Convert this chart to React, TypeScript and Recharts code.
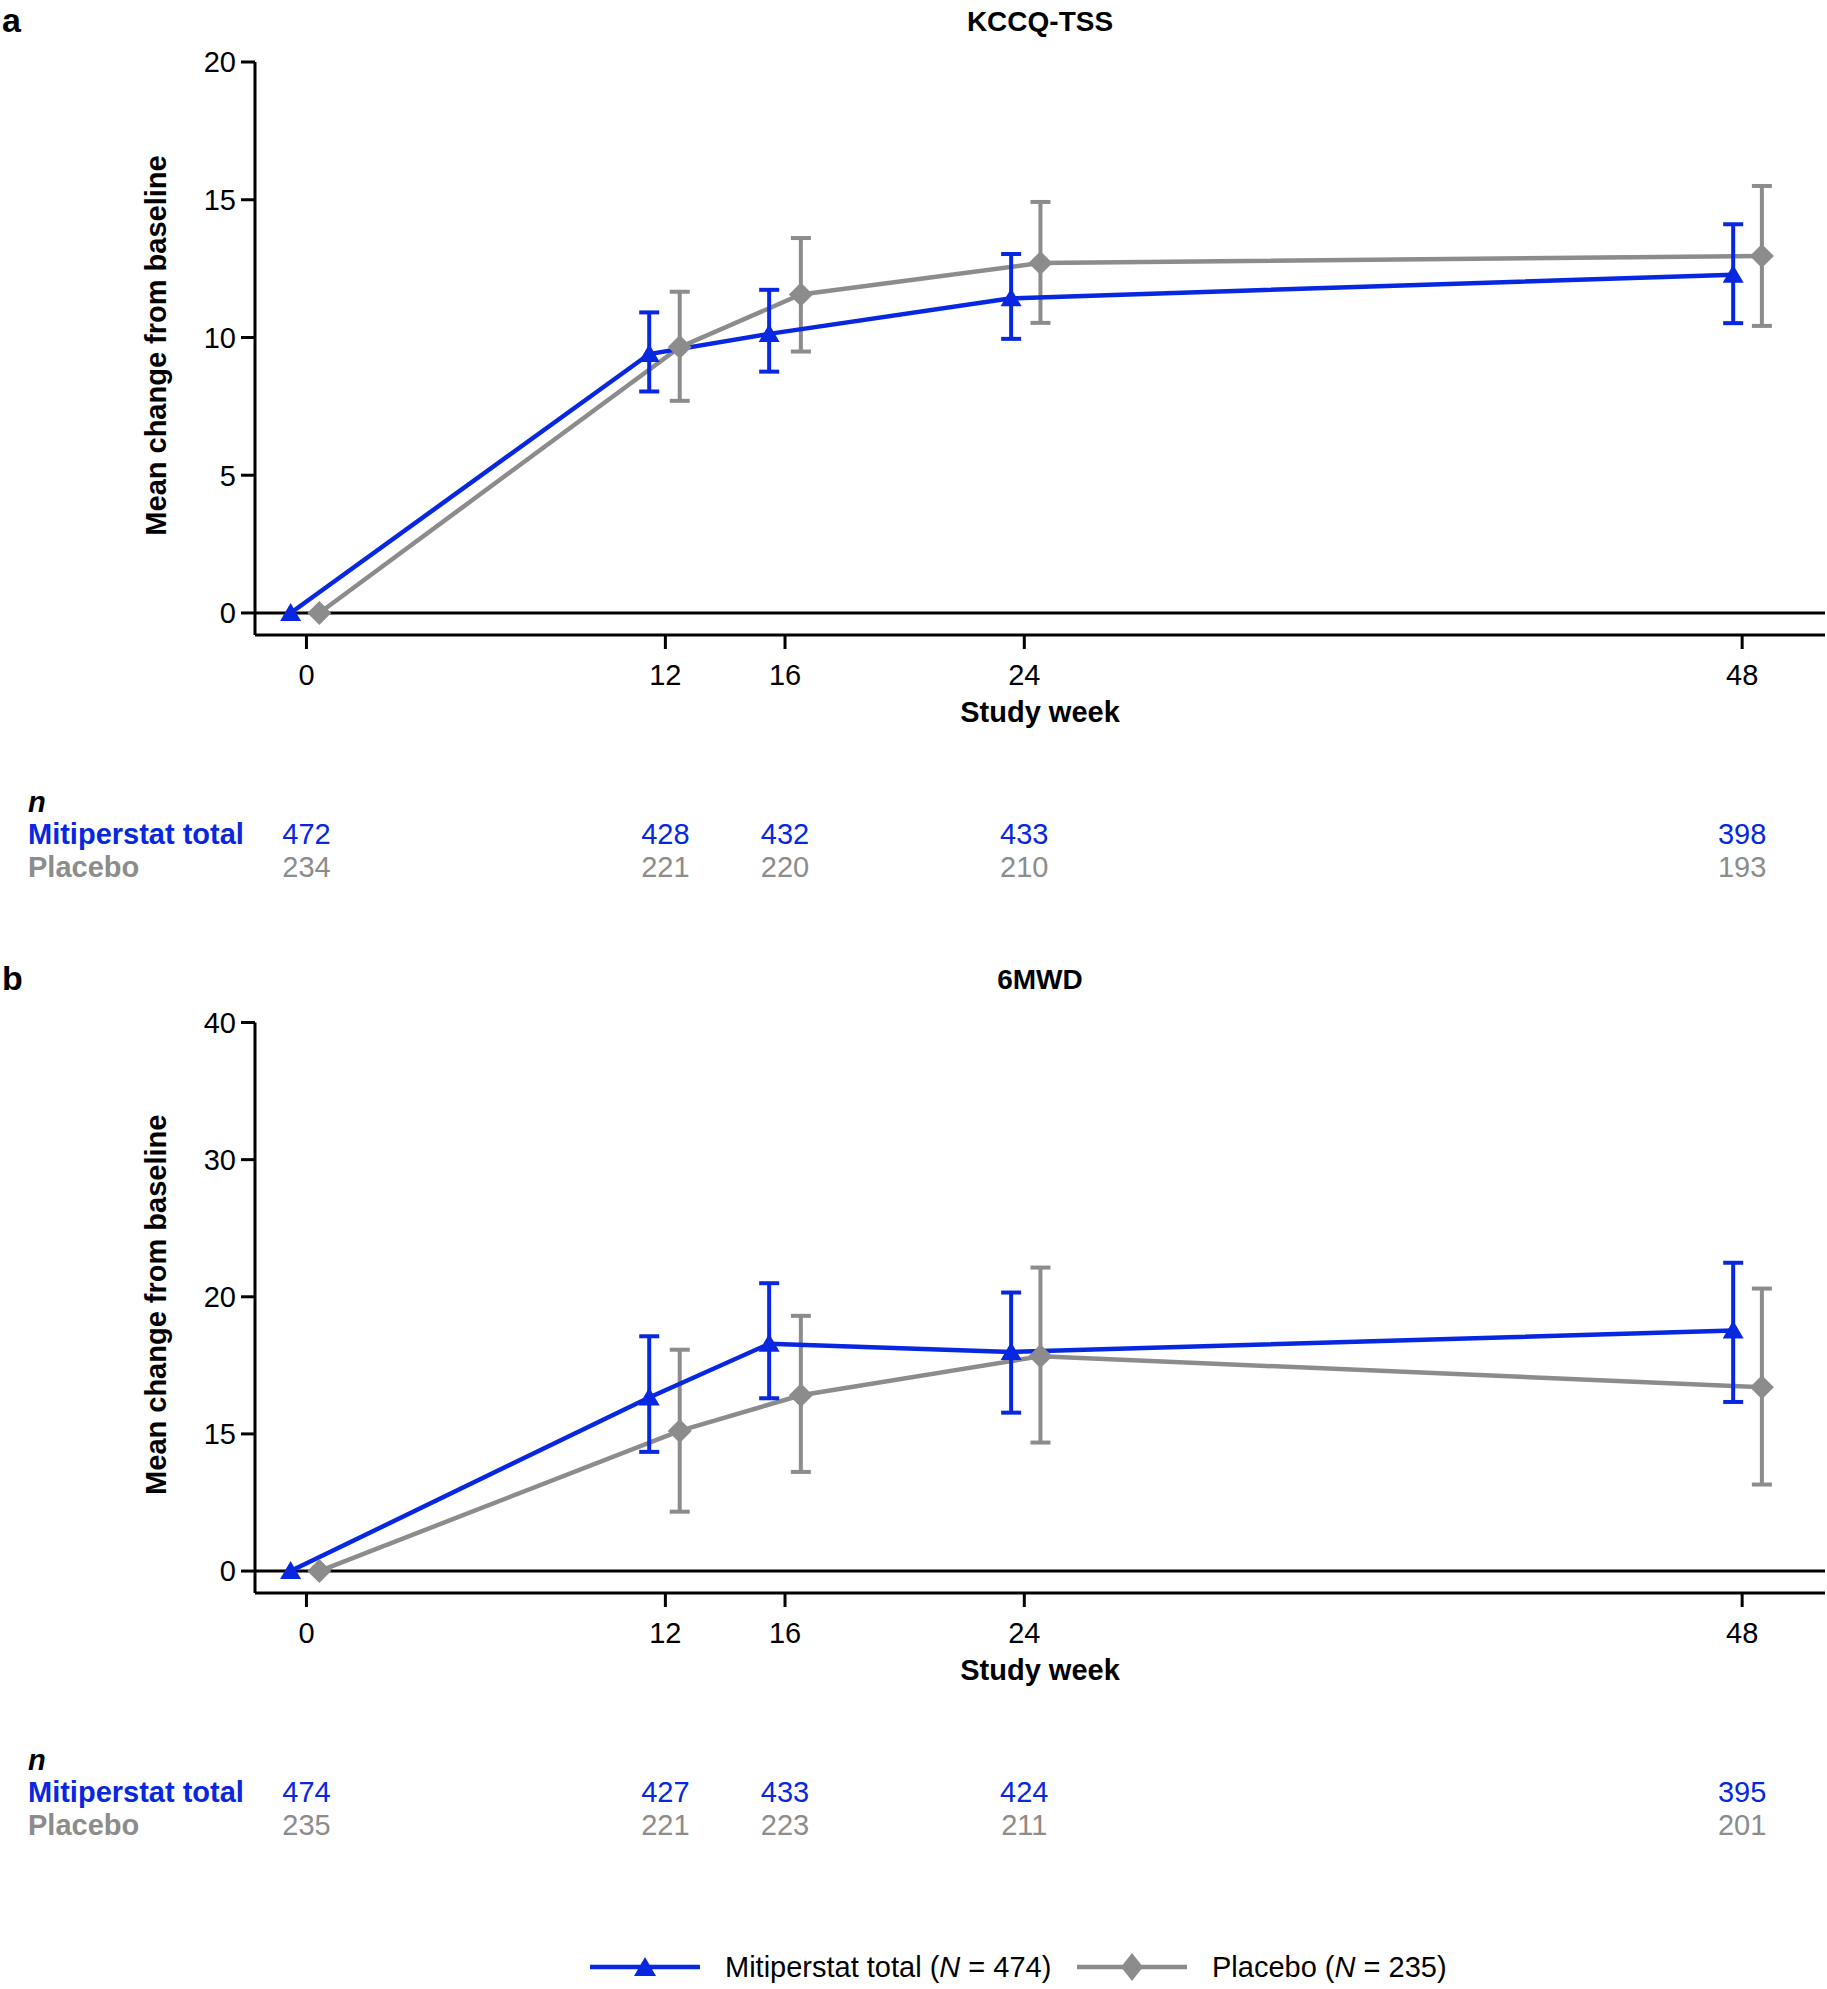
import { ComposedChart, Line, XAxis, YAxis, ErrorBar, ReferenceLine } from 'recharts';

const BLUE = '#0727E0';
const GRAY = '#8C8C8C';
const FONT = '"Liberation Sans", Arial, Helvetica, sans-serif';

// study weeks (x ticks) and where each arm is drawn (arms are dodged around the tick)
const weeks = [0, 12, 16, 24, 48];
const mitiWeekPos = [-0.53, 11.46, 15.47, 23.56, 47.7];
const placeboWeekPos = [0.43, 12.48, 16.53, 24.54, 48.66];

// panel a: KCCQ-TSS
const kccqMiti = [0, 9.4, 10.13, 11.42, 12.28];
const kccqMitiLow = [0, 8.04, 8.76, 9.95, 10.52];
const kccqMitiHigh = [0, 10.91, 11.73, 13.03, 14.11];
const kccqPlacebo = [0, 9.65, 11.56, 12.7, 12.96];
const kccqPlaceboLow = [0, 7.7, 9.49, 10.53, 10.42];
const kccqPlaceboHigh = [0, 11.66, 13.61, 14.92, 15.5];
const kccqNMiti = [472, 428, 432, 433, 398];
const kccqNPlacebo = [234, 221, 220, 210, 193];
const kccqTicks = [0, 5, 10, 15, 20];
const kccqTickLabels = ['0', '5', '10', '15', '20'];

// panel b: 6MWD
const mwdMiti = [0, 12.66, 16.57, 15.98, 17.54];
const mwdMitiLow = [0, 8.69, 12.6, 11.55, 12.33];
const mwdMitiHigh = [0, 17.12, 20.99, 20.31, 22.48];
const mwdPlacebo = [0, 10.22, 12.82, 15.66, 13.41];
const mwdPlaceboLow = [0, 4.33, 7.23, 9.37, 6.31];
const mwdPlaceboHigh = [0, 16.14, 18.61, 22.13, 20.6];
const mwdNMiti = [474, 427, 433, 424, 395];
const mwdNPlacebo = [235, 221, 223, 211, 201];
const mwdTicks = [0, 10, 20, 30, 40];
const mwdTickLabels = ['0', '15', '20', '30', '40'];

function buildSeries(pos: number[], mean: number[], low: number[], high: number[]) {
  return pos.map((x, i) => ({
    x,
    y: mean[i],
    // no bar at baseline
    err: i === 0 ? null : [mean[i] - low[i], high[i] - mean[i]],
  }));
}

function TriangleDot(props: any) {
  const { cx, cy, index } = props;
  if (cx == null || cy == null) return null;
  return (
    <polygon
      key={`tri-${index}`}
      points={`${cx},${cy - 10} ${cx - 10.5},${cy + 8} ${cx + 10.5},${cy + 8}`}
      fill={BLUE}
    />
  );
}

function DiamondDot(props: any) {
  const { cx, cy, index } = props;
  if (cx == null || cy == null) return null;
  return (
    <polygon
      key={`dia-${index}`}
      points={`${cx},${cy - 12} ${cx + 12},${cy} ${cx},${cy + 12} ${cx - 12},${cy}`}
      fill={GRAY}
    />
  );
}

function WeekTick(props: any) {
  const { x, y, payload, nMiti, nPlacebo } = props;
  const i = weeks.indexOf(payload.value);
  return (
    <g fontFamily={FONT} fontSize={29} textAnchor="middle">
      <text x={x} y={y + 36} fill="#000">
        {payload.value}
      </text>
      <text x={x} y={y + 195} fill={BLUE}>
        {nMiti[i]}
      </text>
      <text x={x} y={y + 228} fill={GRAY}>
        {nPlacebo[i]}
      </text>
    </g>
  );
}

interface PanelProps {
  top: number;
  plotTop: number;
  letter: string;
  title: string;
  domain: [number, number];
  ticks: number[];
  tickLabels: string[];
  miti: { x: number; y: number; err: number[] | null }[];
  placebo: { x: number; y: number; err: number[] | null }[];
  nMiti: number[];
  nPlacebo: number[];
}

function Panel({ top, plotTop, letter, title, domain, ticks, tickLabels, miti, placebo, nMiti, nPlacebo }: PanelProps) {
  return (
    <div style={{ position: 'absolute', left: 0, top, width: 1827, height: 958 }}>
      <ComposedChart width={1827} height={958} margin={{ top: plotTop, right: 2, bottom: 0, left: 0 }}>
        <XAxis
          dataKey="x"
          type="number"
          domain={[-1.72, 50.77]}
          ticks={weeks}
          interval={0}
          allowDataOverflow
          height={323}
          tickSize={14}
          tickMargin={0}
          axisLine={{ stroke: '#000', strokeWidth: 3 }}
          tickLine={{ stroke: '#000', strokeWidth: 3 }}
          tick={(p: any) => <WeekTick {...p} nMiti={nMiti} nPlacebo={nPlacebo} />}
        />
        <YAxis
          type="number"
          domain={domain}
          ticks={ticks}
          interval={0}
          allowDataOverflow
          width={255}
          tickSize={14}
          tickMargin={5}
          axisLine={{ stroke: '#000', strokeWidth: 3 }}
          tickLine={{ stroke: '#000', strokeWidth: 3 }}
          tick={{ fill: '#000', fontSize: 29, fontFamily: FONT }}
          tickFormatter={(v: number) => tickLabels[ticks.indexOf(v)] ?? String(v)}
        />
        <ReferenceLine y={0} stroke="#000" strokeWidth={3} />
        <Line
          data={placebo}
          dataKey="y"
          type="linear"
          stroke={GRAY}
          strokeWidth={4.5}
          dot={DiamondDot}
          activeDot={false}
          isAnimationActive={false}
        >
          <ErrorBar dataKey="err" direction="y" width={10} stroke={GRAY} strokeWidth={4} isAnimationActive={false} />
        </Line>
        <Line
          data={miti}
          dataKey="y"
          type="linear"
          stroke={BLUE}
          strokeWidth={4.5}
          dot={TriangleDot}
          activeDot={false}
          isAnimationActive={false}
        >
          <ErrorBar dataKey="err" direction="y" width={10} stroke={BLUE} strokeWidth={4} isAnimationActive={false} />
        </Line>
      </ComposedChart>
      <svg
        width={1827}
        height={958}
        style={{ position: 'absolute', left: 0, top: 0, pointerEvents: 'none' }}
        fontFamily={FONT}
      >
        <text x={2} y={32} fontSize={34} fontWeight="bold" fill="#000">
          {letter}
        </text>
        <text x={1040} y={31} fontSize={28} fontWeight="bold" textAnchor="middle" fill="#000">
          {title}
        </text>
        <text
          transform={`translate(166,${(plotTop + 635) / 2 - 3}) rotate(-90)`}
          fontSize={29}
          fontWeight="bold"
          textAnchor="middle"
          fill="#000"
        >
          Mean change from baseline
        </text>
        <text x={1040} y={722} fontSize={29} fontWeight="bold" textAnchor="middle" fill="#000">
          Study week
        </text>
        <text x={28} y={812} fontSize={29} fontWeight="bold" fontStyle="italic" fill="#000">
          n
        </text>
        <text x={28} y={844} fontSize={29} fontWeight="bold" fill={BLUE}>
          Mitiperstat total
        </text>
        <text x={28} y={877} fontSize={29} fontWeight="bold" fill={GRAY}>
          Placebo
        </text>
      </svg>
    </div>
  );
}

function LegendRow() {
  return (
    <svg
      width={1827}
      height={73}
      style={{ position: 'absolute', left: 0, top: 1916 }}
      fontFamily={FONT}
    >
      <line x1={590} x2={700} y1={51} y2={51} stroke={BLUE} strokeWidth={4.5} />
      <polygon points="645,41 634,60 656,60" fill={BLUE} />
      <text x={725} y={61} fontSize={29} fill="#000">
        Mitiperstat total (<tspan fontStyle="italic">N</tspan> = 474)
      </text>
      <line x1={1077} x2={1187} y1={51} y2={51} stroke={GRAY} strokeWidth={4.5} />
      <polygon points="1132,37 1143,51 1132,65 1121,51" fill={GRAY} />
      <text x={1212} y={61} fontSize={29} fill="#000">
        Placebo (<tspan fontStyle="italic">N</tspan> = 235)
      </text>
    </svg>
  );
}

export default function App() {
  const kccqMitiData = buildSeries(mitiWeekPos, kccqMiti, kccqMitiLow, kccqMitiHigh);
  const kccqPlaceboData = buildSeries(placeboWeekPos, kccqPlacebo, kccqPlaceboLow, kccqPlaceboHigh);
  const mwdMitiData = buildSeries(mitiWeekPos, mwdMiti, mwdMitiLow, mwdMitiHigh);
  const mwdPlaceboData = buildSeries(placeboWeekPos, mwdPlacebo, mwdPlaceboLow, mwdPlaceboHigh);

  return (
    <div style={{ position: 'absolute', left: 0, top: 0, width: 1827, height: 1989, background: '#fff' }}>
      <Panel
        top={0}
        plotTop={62}
        letter="a"
        title="KCCQ-TSS"
        domain={[-0.8, 20]}
        ticks={kccqTicks}
        tickLabels={kccqTickLabels}
        miti={kccqMitiData}
        placebo={kccqPlaceboData}
        nMiti={kccqNMiti}
        nPlacebo={kccqNPlacebo}
      />
      <Panel
        top={958}
        plotTop={64.5}
        letter="b"
        title="6MWD"
        domain={[-1.6, 40]}
        ticks={mwdTicks}
        tickLabels={mwdTickLabels}
        miti={mwdMitiData}
        placebo={mwdPlaceboData}
        nMiti={mwdNMiti}
        nPlacebo={mwdNPlacebo}
      />
      <LegendRow />
    </div>
  );
}
